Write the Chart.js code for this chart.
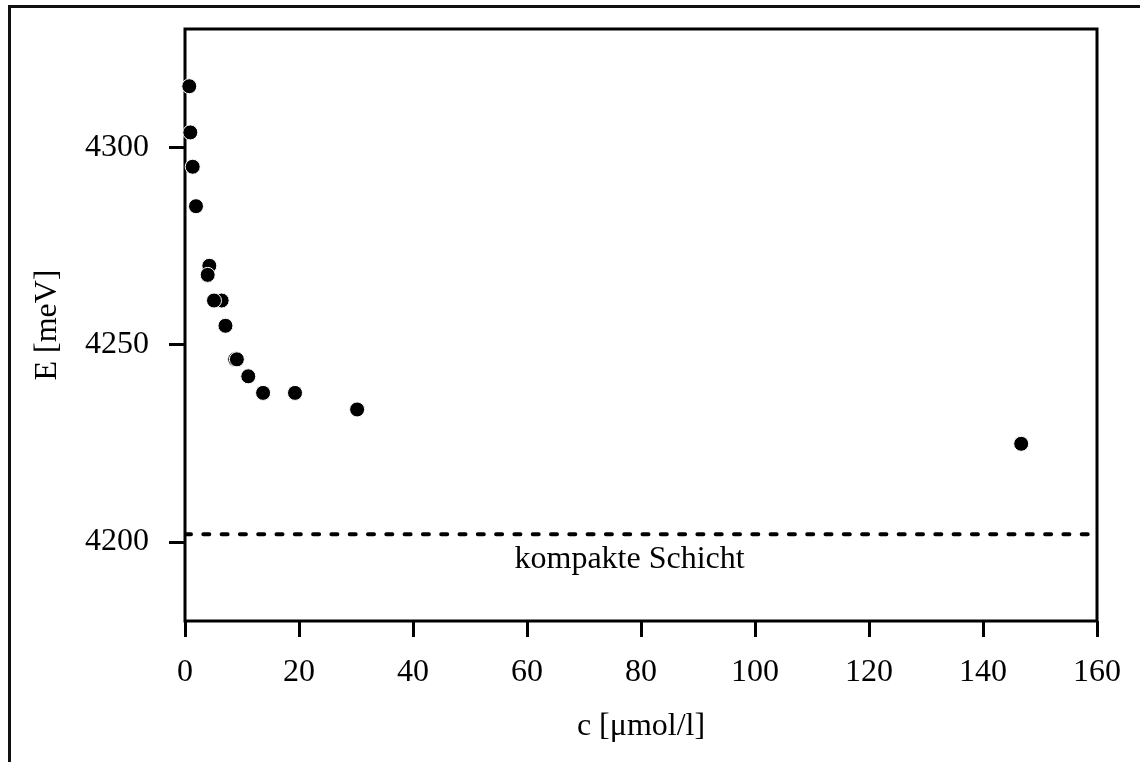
<!DOCTYPE html>
<html>
<head>
<meta charset="utf-8">
<script src="https://cdn.jsdelivr.net/npm/chart.js@4.4.1/dist/chart.umd.min.js"></script>
<style>
  html, body { margin: 0; padding: 0; background: #fff; overflow: hidden; }
  #wrap { position: relative; width: 1140px; height: 762px; }
  #frame {
    position: absolute; left: 8px; top: 5px; width: 1200px; height: 800px;
    border-left: 3px solid #111; border-top: 3px solid #111;
    pointer-events: none;
  }
  canvas { position: absolute; left: 0; top: 0; }
</style>
</head>
<body>
<div id="wrap">
  <canvas id="chart" width="1140" height="762"></canvas>
  <div id="frame"></div>
</div>
<script>
// Messwerte (c in µmol/l, E in meV)
const concValues = [0.75, 0.93, 1.35, 1.93, 4.27, 3.98, 6.43, 5.09, 7.1, 8.8, 9.1, 11.1, 13.7, 19.3, 30.2, 146.7];
const energyValues = [4315.5, 4303.8, 4295.1, 4285.1, 4270, 4267.7, 4261.2, 4261.2, 4254.8, 4246.3, 4246.3, 4242, 4237.8, 4237.8, 4233.6, 4224.9];

// Linie "kompakte Schicht"
const layerC = [0, 158.5];
const layerE = [4202, 4202];
const layerLabel = "kompakte Schicht";
const layerLabelC = 78;
const layerLabelE = 4195.5;

// Achsen
const xTicks = [0, 20, 40, 60, 80, 100, 120, 140, 160];
const yTicks = [4200, 4250, 4300];
const xRange = [0, 160];
const yRange = [4180, 4330];

const FONT = "'Liberation Serif', 'Times New Roman', serif";

// Rahmen um den Plotbereich + Beschriftung der Linie
const boxPlugin = {
  id: "box",
  beforeDatasetsDraw(chart) {
    const { ctx, chartArea } = chart;
    ctx.save();
    ctx.strokeStyle = "#000";
    ctx.lineWidth = 3;
    ctx.strokeRect(chartArea.left, chartArea.top, chartArea.right - chartArea.left, chartArea.bottom - chartArea.top);
    ctx.restore();
  },
  afterDatasetsDraw(chart) {
    const { ctx, scales } = chart;
    ctx.save();
    ctx.fillStyle = "#000";
    ctx.font = "32px " + FONT;
    ctx.textAlign = "center";
    ctx.textBaseline = "middle";
    ctx.fillText(layerLabel, scales.x.getPixelForValue(layerLabelC), scales.y.getPixelForValue(layerLabelE));
    ctx.restore();
  },
};

const ctx = document.getElementById("chart").getContext("2d");

new Chart(ctx, {
  type: "scatter",
  data: {
    datasets: [
      {
        type: "line",
        data: layerC.map((c, i) => ({ x: c, y: layerE[i] })),
        borderColor: "#000",
        borderWidth: 4,
        borderDash: [6, 12.3],
        borderCapStyle: "round",
        pointRadius: 0,
        fill: false,
      },
      {
        data: concValues.map((c, i) => ({ x: c, y: energyValues[i] })),
        backgroundColor: "#000",
        borderColor: "#fff",
        borderWidth: 1,
        pointRadius: 7.5,
        clip: false,
      },
    ],
  },
  options: {
    responsive: false,
    animation: false,
    events: [],
    layout: { padding: { left: 0, top: 29, right: 43, bottom: 0 } },
    plugins: { legend: { display: false }, tooltip: { enabled: false } },
    scales: {
      x: {
        type: "linear",
        min: xRange[0],
        max: xRange[1],
        afterBuildTicks: (scale) => { scale.ticks = xTicks.map((v) => ({ value: v })); },
        afterFit: (scale) => {
          scale.height = 141;
          scale.paddingLeft = 0;
          scale.paddingRight = 0;
        },
        border: { display: false },
        grid: { drawOnChartArea: false, tickLength: 16, tickWidth: 3, tickColor: "#000" },
        ticks: {
          color: "#000",
          font: { family: FONT, size: 32 },
          padding: 16,
          maxRotation: 0,
          callback: (v) => String(v),
        },
        title: {
          display: true,
          text: "c [μmol/l]",
          color: "#000",
          font: { family: FONT, size: 32 },
          padding: { top: 0, bottom: 16 },
        },
      },
      y: {
        type: "linear",
        min: yRange[0],
        max: yRange[1],
        afterBuildTicks: (scale) => { scale.ticks = yTicks.map((v) => ({ value: v })); },
        afterFit: (scale) => {
          scale.width = 185;
          scale.paddingTop = 0;
          scale.paddingBottom = 0;
        },
        border: { display: false },
        grid: { drawOnChartArea: false, tickLength: 16, tickWidth: 3, tickColor: "#000" },
        ticks: {
          color: "#000",
          font: { family: FONT, size: 32 },
          padding: 20,
          callback: (v) => String(v),
        },
        title: {
          display: true,
          text: "E [meV]",
          color: "#000",
          font: { family: FONT, size: 32 },
          padding: { top: 28, bottom: 0 },
        },
      },
    },
  },
  plugins: [boxPlugin],
});
</script>
</body>
</html>
